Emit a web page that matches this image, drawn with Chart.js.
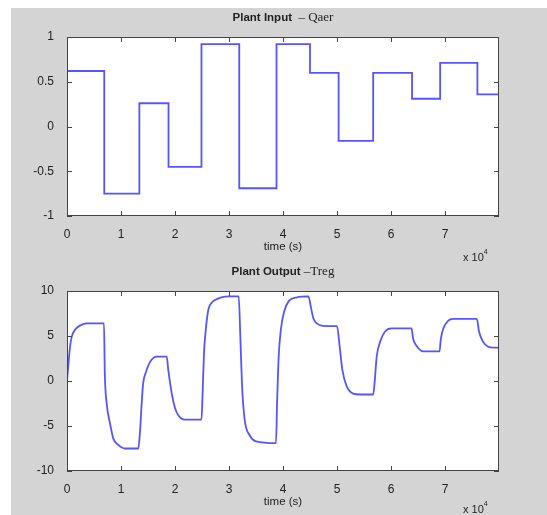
<!DOCTYPE html>
<html>
<head>
<meta charset="utf-8">
<script src="https://cdn.jsdelivr.net/npm/chart.js@4.4.1/dist/chart.umd.min.js"></script>
<style>
  body { margin: 0; background: #fff; }
  #wrap { position: relative; width: 547px; height: 515px; overflow: hidden; }
  #panel { position: absolute; left: 11px; top: 8px; width: 536px; height: 507px; background: #d4d4d4; }
  canvas { position: absolute; left: 0; }
  .lbl { position: absolute; color: #222; font-family: "Liberation Sans", Arial, sans-serif; white-space: nowrap; }
  .ttl { font-weight: bold; font-size: 11.5px; transform: translateX(-50%); }
  .ttl span { font-family: "Liberation Serif", serif; font-weight: normal; font-size: 13px; }
  .xl { font-size: 11.5px; transform: translateX(-50%); }
  .ex { font-size: 11px; }
  .ex sup { font-size: 7px; position: relative; top: -2px; }
</style>
</head>
<body>
<div id="wrap">
  <div id="panel"></div>
  <canvas id="chart_in" width="547" height="258" style="top:0"></canvas>
  <canvas id="chart_out" width="547" height="257" style="top:258px"></canvas>
  <div class="lbl ttl" style="left:283px; top:9px">Plant Input &nbsp;<span>– Qaer</span></div>
  <div class="lbl xl" style="left:283px; top:240px">time (s)</div>
  <div class="lbl ex" style="left:463px; top:250px">x 10<sup>4</sup></div>
  <div class="lbl ttl" style="left:283px; top:263px">Plant Output <span>–Treg</span></div>
  <div class="lbl xl" style="left:283px; top:495px">time (s)</div>
  <div class="lbl ex" style="left:463px; top:502px">x 10<sup>4</sup></div>
</div>
<script>
// time in units of 1e4 s
const stepTimes = [0, 0.69, 1.34, 1.88, 2.49, 3.19, 3.88, 4.5, 5.03, 5.67, 6.39, 6.91, 7.6, 8];
const qaer = [0.62, -0.75, 0.26, -0.45, 0.92, -0.69, 0.92, 0.60, -0.16, 0.60, 0.31, 0.71, 0.36, 0.36];

const tregTime = [0, 0.025, 0.056, 0.087, 0.148, 0.24, 0.36, 0.685, 0.70, 0.735, 0.796, 0.858, 0.95, 1.074, 1.32,
  1.35, 1.383, 1.41, 1.463, 1.537, 1.66, 1.846, 1.876, 1.94, 2.0, 2.06, 2.185, 2.49,
  2.51, 2.537, 2.57, 2.62, 2.68, 2.74, 2.86, 3.0, 3.18,
  3.21, 3.24, 3.29, 3.38, 3.5, 3.87,
  3.89, 3.92, 3.96, 4.02, 4.11, 4.26, 4.47,
  4.52, 4.56, 4.69, 4.8, 5.0,
  5.05, 5.1, 5.18, 5.3, 5.42, 5.67,
  5.7, 5.735, 5.8, 5.89, 6.01, 6.38,
  6.41, 6.475, 6.6, 6.9,
  6.92, 6.97, 7.06, 7.15, 7.59,
  7.63, 7.7, 7.8, 7.9, 8.0];
const treg = [0, 1.8, 3.8, 4.9, 5.7, 6.15, 6.4, 6.4, 0.85, -2.5, -4.7, -6.4, -7.1, -7.5, -7.5,
  -5.8, -2.5, -0.26, 1.0, 2.1, 2.7, 2.7, 1.2, -1.4, -3.0, -3.8, -4.3, -4.3,
  -1.6, 3.1, 5.7, 8.0, 8.7, 9.0, 9.3, 9.4, 9.4,
  4.9, -0.3, -4.3, -6.0, -6.7, -6.9,
  -2.5, 2.7, 5.7, 7.7, 8.9, 9.3, 9.4,
  8.1, 7.0, 6.2, 6.1, 6.1,
  3.8, 1.2, -0.6, -1.4, -1.5, -1.5,
  0.1, 2.7, 4.4, 5.5, 5.85, 5.85,
  4.7, 3.9, 3.3, 3.3,
  4.55, 5.85, 6.7, 6.9, 6.9,
  5.5, 4.4, 3.8, 3.7, 3.7];

const xTicks = [0, 1, 2, 3, 4, 5, 6, 7];

const boxPlugin = {
  id: 'box',
  beforeDraw(chart) {
    const a = chart.chartArea, c = chart.ctx;
    c.save();
    c.fillStyle = '#fff';
    c.fillRect(a.left, a.top, a.right - a.left, a.bottom - a.top);
    c.restore();
  },
  afterDraw(chart) {
    const a = chart.chartArea, c = chart.ctx;
    const xs = chart.scales.x, ys = chart.scales.y;
    c.save();
    c.strokeStyle = '#444';
    c.lineWidth = 1;
    c.strokeRect(a.left + 0.5, a.top + 0.5, a.right - a.left - 1, a.bottom - a.top - 1);
    c.beginPath();
    xs.ticks.forEach(t => {
      const px = Math.round(xs.getPixelForValue(t.value)) + 0.5;
      c.moveTo(px, a.bottom); c.lineTo(px, a.bottom - 5);
      c.moveTo(px, a.top); c.lineTo(px, a.top + 5);
    });
    ys.ticks.forEach(t => {
      const py = Math.round(ys.getPixelForValue(t.value)) + 0.5;
      c.moveTo(a.left, py); c.lineTo(a.left + 5, py);
      c.moveTo(a.right, py); c.lineTo(a.right - 5, py);
    });
    c.stroke();
    c.restore();
  }
};

function makePlot(id, xs, ys, yMin, yMax, yStep, stepped, padTop, xHeight) {
  const pts = xs.map((x, i) => ({x: x, y: ys[i]}));
  return new Chart(document.getElementById(id), {
    type: 'line',
    data: {
      datasets: [{
        data: pts,
        borderColor: 'rgb(85,85,255)',
        borderWidth: 1.8,
        pointRadius: 0,
        stepped: stepped,
        cubicInterpolationMode: stepped ? 'default' : 'monotone',
        fill: false
      }]
    },
    options: {
      responsive: false,
      animation: false,
      layout: { padding: { left: 0, top: padTop, right: 48, bottom: 0 } },
      plugins: { legend: { display: false }, tooltip: { enabled: false } },
      scales: {
        x: {
          type: 'linear', min: 0, max: 8,
          afterBuildTicks: s => { s.ticks = xTicks.map(v => ({value: v})); },
          afterFit: s => { s.height = xHeight; },
          grid: { display: false }, border: { display: false },
          ticks: { color: '#222', padding: 3, maxRotation: 0, font: { family: 'Liberation Sans', size: 12 } }
        },
        y: {
          min: yMin, max: yMax,
          ticks: {
            stepSize: yStep, color: '#222', padding: 5,
            font: { family: 'Liberation Sans', size: 12 },
            callback: v => String(v)
          },
          afterFit: s => { s.width = 67; },
          grid: { display: false }, border: { display: false }
        }
      }
    },
    plugins: [boxPlugin]
  });
}

makePlot('chart_in', stepTimes, qaer, -1, 1, 0.5, 'before', 37, 42);
makePlot('chart_out', tregTime, treg, -10, 10, 5, false, 33, 44);
</script>
</body>
</html>
